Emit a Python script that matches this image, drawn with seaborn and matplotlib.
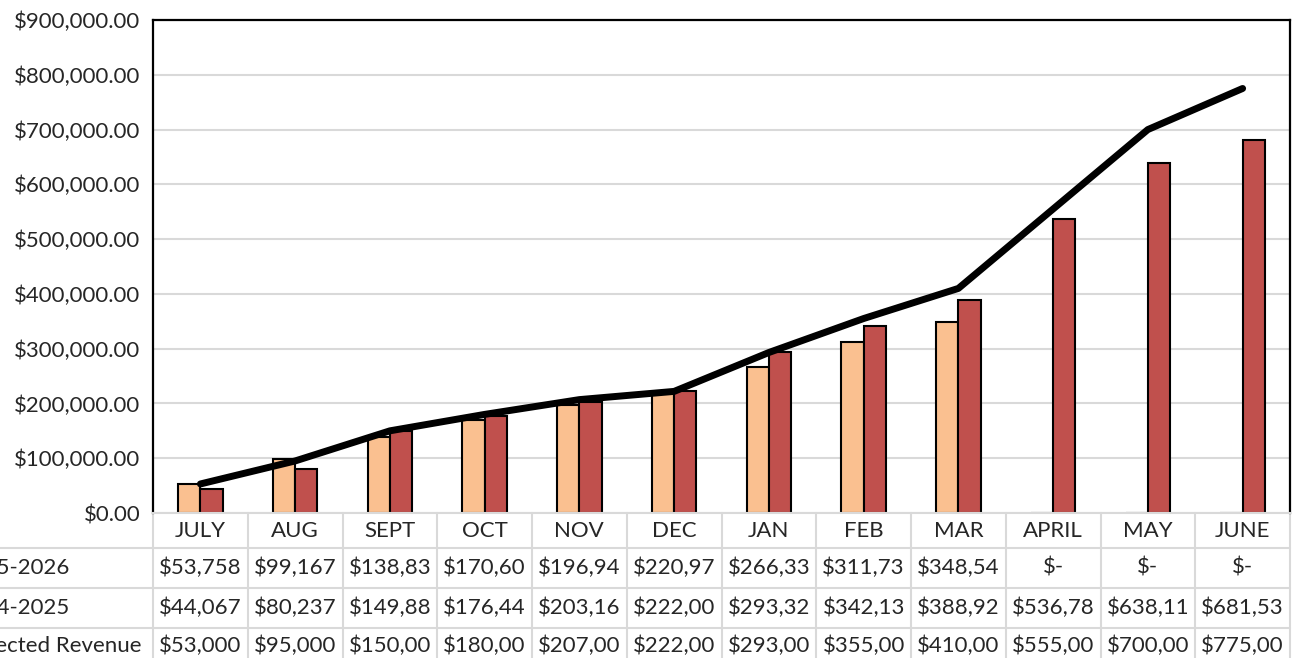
import numpy as np
import pandas as pd
import seaborn as sns
import matplotlib.pyplot as plt
from matplotlib.lines import Line2D
from matplotlib.ticker import FuncFormatter

# data
months = ['JULY', 'AUG', 'SEPT', 'OCT', 'NOV', 'DEC', 'JAN', 'FEB', 'MAR', 'APRIL', 'MAY', 'JUNE']
rev_2025_2026 = [53758, 99167, 138830, 170600, 196940, 220970, 266330, 311730, 348540, 0, 0, 0]
rev_2024_2025 = [44067, 80237, 149880, 176440, 203160, 222000, 293320, 342130, 388920, 536780, 638110, 681530]
projected = [53000, 95000, 150000, 180000, 207000, 222000, 293000, 355000, 410000, 555000, 700000, 775000]
row_labels = ['2025-2026', '2024-2025', 'Projected Revenue']
# what the data table cells show (Excel cuts the text at the cell width)
cells_2025_2026 = ['$53,758', '$99,167', '$138,83', '$170,60', '$196,94', '$220,97', '$266,33', '$311,73', '$348,54', '$-', '$-', '$-']
cells_2024_2025 = ['$44,067', '$80,237', '$149,88', '$176,44', '$203,16', '$222,00', '$293,32', '$342,13', '$388,92', '$536,78', '$638,11', '$681,53']
cells_projected = ['$53,000', '$95,000', '$150,00', '$180,00', '$207,00', '$222,00', '$293,00', '$355,00', '$410,00', '$555,00', '$700,00', '$775,00']

LIGHT = '#FAC090'
RED = '#C0504D'
GRID = '#D9D9D9'

sns.set_style('white')
plt.rcParams['font.family'] = ['Lato', 'DejaVu Sans']
FS = 16

W, H = 1304, 658
def fx(px):
    return px / W
def fy(py):
    return 1 - py / H

fig = plt.figure(figsize=(13.04, 6.58), dpi=100)
ax = fig.add_axes([fx(153), fy(513), fx(1290) - fx(153), fy(20) - fy(513)])

df = pd.DataFrame({
    'month': months * 2,
    'value': rev_2025_2026 + rev_2024_2025,
    'series': [row_labels[0]] * 12 + [row_labels[1]] * 12,
})
sns.barplot(data=df, x='month', y='value', hue='series', order=months,
            palette=[LIGHT, RED], saturation=1, width=0.47, gap=0, edgecolor='black',
            linewidth=1.5, legend=False, ax=ax, zorder=2)

sns.lineplot(x=np.arange(len(months)), y=projected, color='black', linewidth=5,
             sort=False, ax=ax, zorder=3, solid_capstyle='round', solid_joinstyle='round')

ax.set_xlim(-0.5, len(months) - 0.5)
ax.set_ylim(0, 900000)
ax.set_yticks(np.arange(0, 900001, 100000))
ax.yaxis.set_major_formatter(FuncFormatter(lambda v, p: f'${v:,.2f}'))
ax.tick_params(axis='y', length=0, pad=9, labelsize=FS)
ax.tick_params(axis='x', length=0, labelbottom=False)
ax.set_xlabel('')
ax.set_ylabel('')
ax.yaxis.grid(True, color=GRID, linewidth=1.5)
ax.set_axisbelow(True)
for s in ['top', 'left', 'right']:
    ax.spines[s].set_color('black')
    ax.spines[s].set_linewidth(1.6)
ax.spines['bottom'].set_color(GRID)
ax.spines['bottom'].set_linewidth(1.5)

# data table under the plot
def ay(py):
    return (513 - py) / 493

xt = ax.get_xaxis_transform()
for i in range(len(months) + 1):
    ax.plot([i - 0.5, i - 0.5], [0, ay(660)], transform=xt, color=GRID,
            linewidth=1.5, clip_on=False)
for py in [548, 588, 628]:
    fig.add_artist(Line2D([0, fx(1290)], [fy(py), fy(py)], color=GRID, linewidth=1.5))

rows = [cells_2025_2026, cells_2024_2025, cells_projected]
row_y = [568, 608, 646]
for i, m in enumerate(months):
    ax.text(i, ay(531), m, transform=xt, ha='center', va='center', fontsize=FS)
    for cells, py in zip(rows, row_y):
        ax.text(i, ay(py), cells[i], transform=xt, ha='center', va='center', fontsize=FS)

# row labels run past the left edge, as in the cropped reference
label_end = [69, 69, 141]
for lab, py, px in zip(row_labels, row_y, label_end):
    fig.text(fx(px), fy(py), lab, ha='right', va='center', fontsize=FS)

fig.savefig('out.png', dpi=100)
